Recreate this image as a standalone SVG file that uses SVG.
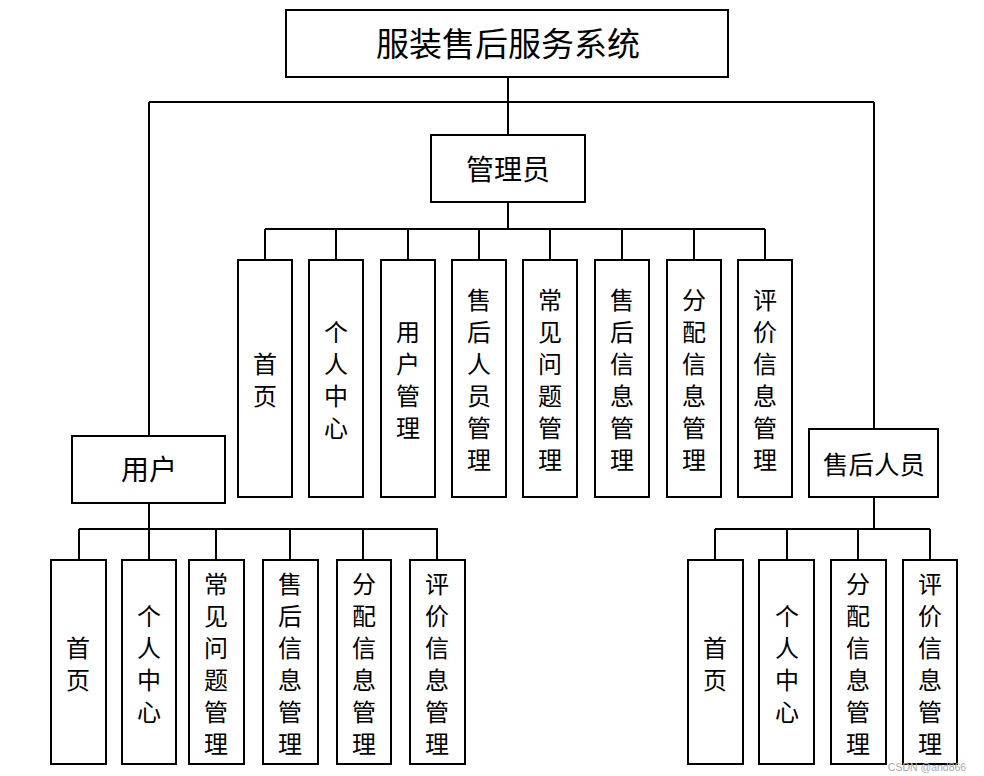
<svg xmlns="http://www.w3.org/2000/svg" width="984" height="776" viewBox="0 0 984 776">
<style>
.b{fill:#fff;stroke:#000;stroke-width:2}
.c{fill:none;stroke:#000;stroke-width:2}
text{font-family:"Noto Sans CJK SC","Liberation Serif",serif;fill:#000;text-anchor:middle;dominant-baseline:central}
.t{font-size:33px}
.m{font-size:28px}
.n{font-size:25.5px}
.v{font-size:24px}
.w{font-family:"Liberation Sans",sans-serif;font-size:10.5px;fill:#aaaaaa}
</style>
<rect width="984" height="776" fill="#fff"/>
<g id="connectors">
<path class="c" d="M508 77V135M149 102H874M149 102V436M874 102V429"/>
<path class="c" d="M508 202V229M265 229H765M265 229V260M336 229V260M408 229V260M479 229V260M550 229V260M622 229V260M694 229V260M765 229V260"/>
<path class="c" d="M149 503V529M79 529H438M79 529V560M149 529V560M216 529V560M290 529V560M363 529V560M437 529V560"/>
<path class="c" d="M874 497V529M715 529H930M715 529V560M787 529V560M858 529V560M930 529V560"/>
</g>
<g id="root"><rect class="b" x="286" y="10" width="442" height="67"/><text class="t" x="508" y="42">服装售后服务系统</text></g>
<g id="admin"><rect class="b" x="431" y="135" width="154" height="67"/><text class="m" x="508" y="168">管理员</text></g>
<g id="user"><rect class="b" x="72" y="436" width="153" height="67"/><text class="m" x="149" y="468">用户</text></g>
<g id="staff"><rect class="b" x="809" y="429" width="129" height="68"/><text class="n" x="874" y="462">售后人员</text></g>

<g id="a1"><rect class="b" x="238" y="260" width="54" height="237"/><text class="v"><tspan x="265" y="362">首</tspan><tspan x="265" y="394">页</tspan></text></g>
<g id="a2"><rect class="b" x="309" y="260" width="54" height="237"/><text class="v"><tspan x="336" y="330">个</tspan><tspan x="336" y="362">人</tspan><tspan x="336" y="394">中</tspan><tspan x="336" y="426">心</tspan></text></g>
<g id="a3"><rect class="b" x="381" y="260" width="54" height="237"/><text class="v"><tspan x="408" y="330">用</tspan><tspan x="408" y="362">户</tspan><tspan x="408" y="394">管</tspan><tspan x="408" y="426">理</tspan></text></g>
<g id="a4"><rect class="b" x="452" y="260" width="54" height="237"/><text class="v"><tspan x="479" y="298">售</tspan><tspan x="479" y="330">后</tspan><tspan x="479" y="362">人</tspan><tspan x="479" y="394">员</tspan><tspan x="479" y="426">管</tspan><tspan x="479" y="458">理</tspan></text></g>
<g id="a5"><rect class="b" x="523" y="260" width="54" height="237"/><text class="v"><tspan x="550" y="298">常</tspan><tspan x="550" y="330">见</tspan><tspan x="550" y="362">问</tspan><tspan x="550" y="394">题</tspan><tspan x="550" y="426">管</tspan><tspan x="550" y="458">理</tspan></text></g>
<g id="a6"><rect class="b" x="595" y="260" width="54" height="237"/><text class="v"><tspan x="622" y="298">售</tspan><tspan x="622" y="330">后</tspan><tspan x="622" y="362">信</tspan><tspan x="622" y="394">息</tspan><tspan x="622" y="426">管</tspan><tspan x="622" y="458">理</tspan></text></g>
<g id="a7"><rect class="b" x="667" y="260" width="54" height="237"/><text class="v"><tspan x="694" y="298">分</tspan><tspan x="694" y="330">配</tspan><tspan x="694" y="362">信</tspan><tspan x="694" y="394">息</tspan><tspan x="694" y="426">管</tspan><tspan x="694" y="458">理</tspan></text></g>
<g id="a8"><rect class="b" x="738" y="260" width="54" height="237"/><text class="v"><tspan x="765" y="298">评</tspan><tspan x="765" y="330">价</tspan><tspan x="765" y="362">信</tspan><tspan x="765" y="394">息</tspan><tspan x="765" y="426">管</tspan><tspan x="765" y="458">理</tspan></text></g>

<g id="u1"><rect class="b" x="51" y="560" width="55" height="204"/><text class="v"><tspan x="78" y="646">首</tspan><tspan x="78" y="678">页</tspan></text></g>
<g id="u2"><rect class="b" x="122" y="560" width="54" height="204"/><text class="v"><tspan x="149" y="614">个</tspan><tspan x="149" y="646">人</tspan><tspan x="149" y="678">中</tspan><tspan x="149" y="710">心</tspan></text></g>
<g id="u3"><rect class="b" x="189" y="560" width="55" height="204"/><text class="v"><tspan x="216" y="582">常</tspan><tspan x="216" y="614">见</tspan><tspan x="216" y="646">问</tspan><tspan x="216" y="678">题</tspan><tspan x="216" y="710">管</tspan><tspan x="216" y="742">理</tspan></text></g>
<g id="u4"><rect class="b" x="263" y="560" width="55" height="204"/><text class="v"><tspan x="290" y="582">售</tspan><tspan x="290" y="614">后</tspan><tspan x="290" y="646">信</tspan><tspan x="290" y="678">息</tspan><tspan x="290" y="710">管</tspan><tspan x="290" y="742">理</tspan></text></g>
<g id="u5"><rect class="b" x="337" y="560" width="54" height="204"/><text class="v"><tspan x="364" y="582">分</tspan><tspan x="364" y="614">配</tspan><tspan x="364" y="646">信</tspan><tspan x="364" y="678">息</tspan><tspan x="364" y="710">管</tspan><tspan x="364" y="742">理</tspan></text></g>
<g id="u6"><rect class="b" x="410" y="560" width="55" height="204"/><text class="v"><tspan x="437" y="582">评</tspan><tspan x="437" y="614">价</tspan><tspan x="437" y="646">信</tspan><tspan x="437" y="678">息</tspan><tspan x="437" y="710">管</tspan><tspan x="437" y="742">理</tspan></text></g>

<g id="s1"><rect class="b" x="688" y="560" width="55" height="204"/><text class="v"><tspan x="715" y="646">首</tspan><tspan x="715" y="678">页</tspan></text></g>
<g id="s2"><rect class="b" x="759" y="560" width="55" height="204"/><text class="v"><tspan x="787" y="614">个</tspan><tspan x="787" y="646">人</tspan><tspan x="787" y="678">中</tspan><tspan x="787" y="710">心</tspan></text></g>
<g id="s3"><rect class="b" x="831" y="560" width="55" height="204"/><text class="v"><tspan x="858" y="582">分</tspan><tspan x="858" y="614">配</tspan><tspan x="858" y="646">信</tspan><tspan x="858" y="678">息</tspan><tspan x="858" y="710">管</tspan><tspan x="858" y="742">理</tspan></text></g>
<g id="s4"><rect class="b" x="903" y="560" width="54" height="204"/><text class="v"><tspan x="930" y="582">评</tspan><tspan x="930" y="614">价</tspan><tspan x="930" y="646">信</tspan><tspan x="930" y="678">息</tspan><tspan x="930" y="710">管</tspan><tspan x="930" y="742">理</tspan></text></g>

<text class="w" x="927" y="767">CSDN @and866</text>
</svg>
